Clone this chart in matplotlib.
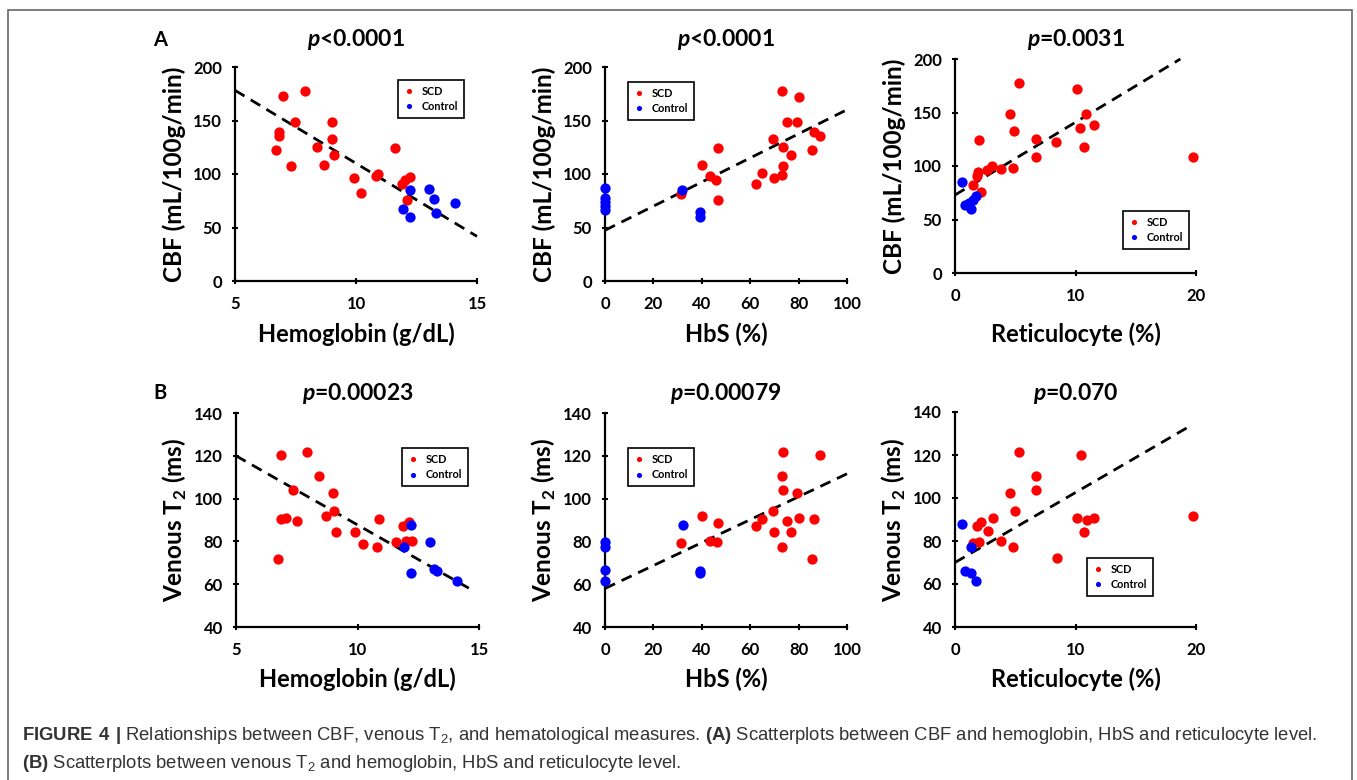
import matplotlib
matplotlib.use('Agg')
import matplotlib.pyplot as plt
from matplotlib.patches import Rectangle

plt.rcParams['font.family'] = ['Lato', 'DejaVu Sans']
plt.rcParams['font.weight'] = 'bold'
plt.rcParams['mathtext.fontset'] = 'custom'
plt.rcParams['mathtext.rm'] = 'Lato:bold'
plt.rcParams['mathtext.bfit'] = 'Lato:italic:bold'
plt.rcParams['mathtext.bf'] = 'Liberation Sans:bold'
plt.rcParams['mathtext.sf'] = 'Liberation Sans:weight=normal'

# ---- data ----
# A: CBF vs hemoglobin
hb_scd = [6.69, 6.80, 6.80, 7.00, 7.30, 7.49, 7.88, 8.40, 8.68, 9.01, 9.01,
          9.11, 9.91, 10.20, 10.81, 10.92, 11.63, 11.92, 12.01, 12.23, 12.11]
cbf_hb_scd = [122.7, 139.6, 135.8, 172.6, 107.8, 148.6, 177.6, 125.2, 108.7, 148.3, 132.7,
              118.1, 96.3, 81.9, 98.4, 100.3, 124.0, 90.3, 94.7, 97.2, 75.4]
hb_ctl = [12.23, 11.93, 12.22, 13.02, 13.23, 13.31, 14.11]
cbf_hb_ctl = [84.7, 67.3, 59.8, 86.3, 76.6, 63.9, 72.6]
cbf_hb_fit_x = [5, 15]
cbf_hb_fit_y = [178.2, 41.7]

# A: CBF vs HbS
hbs_scd = [31.3, 40.1, 43.3, 45.9, 46.6, 46.5, 62.3, 64.7, 69.4, 69.8, 73.2,
           73.4, 73.5, 73.2, 75.4, 77.0, 79.3, 80.1, 85.7, 86.5, 88.9]
cbf_hbs_scd = [81.0, 108.7, 97.8, 94.7, 124.3, 75.4, 90.7, 100.6, 132.7, 96.3, 177.6,
               125.5, 107.8, 98.8, 148.6, 118.1, 148.3, 172.3, 122.7, 138.9, 135.8]
hbs_ctl = [0, 0, 0, 0, 0, 32.0, 39.3, 39.3]
cbf_hbs_ctl = [86.9, 77.6, 73.8, 69.8, 66.7, 84.7, 64.2, 59.8]
cbf_hbs_fit_x = [0, 100]
cbf_hbs_fit_y = [47.4, 160.1]

# A: CBF vs reticulocyte
ret_scd = [1.47, 1.80, 1.91, 2.02, 2.13, 2.68, 3.10, 3.79, 4.59, 4.81, 4.90,
           5.31, 6.72, 6.72, 8.41, 10.10, 10.40, 10.71, 10.90, 11.51, 19.75]
cbf_ret_scd = [81.9, 90.3, 94.7, 124.0, 75.4, 96.0, 100.3, 97.2, 148.3, 98.1, 132.4,
               177.3, 125.2, 108.1, 122.7, 172.3, 135.5, 118.1, 148.3, 138.3, 108.7]
ret_ctl = [0.58, 0.83, 1.13, 1.30, 1.47, 1.72]
cbf_ret_ctl = [84.7, 63.9, 65.4, 59.5, 68.5, 72.3]
cbf_ret_fit_x = [0, 18.7]
cbf_ret_fit_y = [72.9, 200.0]

# B: venous T2 vs hemoglobin
t2_hb_x_scd = [6.74, 6.84, 6.84, 7.05, 7.33, 7.53, 7.92, 8.41, 8.71, 9.01, 9.03,
               9.12, 9.90, 10.21, 10.81, 10.89, 11.60, 11.89, 12.10, 12.01, 12.23]
t2_hb_scd = [72.0, 120.2, 90.3, 90.8, 103.8, 89.7, 121.6, 110.6, 91.9, 102.7, 94.4,
             84.4, 84.5, 78.9, 77.3, 90.5, 79.7, 87.2, 89.2, 80.0, 80.2]
t2_hb_x_ctl = [11.90, 12.21, 12.19, 12.99, 13.15, 13.29, 14.08]
t2_hb_ctl = [77.3, 87.8, 65.3, 79.7, 66.9, 66.4, 61.3]
t2_hb_fit_x = [5, 14.68]
t2_hb_fit_y = [120.0, 57.5]

# B: venous T2 vs HbS
t2_hbs_x_scd = [31.4, 40.1, 43.3, 46.1, 46.5, 62.3, 64.7, 69.4, 69.8, 73.4,
                73.2, 73.5, 73.2, 75.4, 77.0, 79.2, 80.1, 85.7, 86.5, 89.0]
t2_hbs_scd = [79.1, 91.9, 80.0, 79.7, 88.8, 87.2, 90.6, 94.1, 84.4, 121.6,
              110.6, 103.8, 77.3, 89.7, 84.4, 102.7, 90.8, 72.0, 90.3, 120.2]
t2_hbs_x_ctl = [0, 0, 0, 0, 32.1, 39.3, 39.3]
t2_hbs_ctl = [79.7, 77.5, 66.7, 61.3, 87.8, 66.3, 65.3]
t2_hbs_fit_x = [0, 100]
t2_hbs_fit_y = [58.0, 111.6]

# B: venous T2 vs reticulocyte
t2_ret_x_scd = [1.52, 2.02, 1.83, 2.13, 2.71, 3.13, 3.82, 4.59, 4.84, 4.95,
                5.34, 6.72, 6.72, 8.44, 10.10, 10.43, 10.93, 10.73, 11.53, 19.75]
t2_ret_scd = [79.1, 79.6, 87.2, 88.8, 84.5, 90.6, 80.0, 102.5, 77.3, 94.1,
              121.3, 110.3, 103.6, 72.0, 90.8, 120.0, 89.7, 84.2, 90.5, 91.7]
t2_ret_x_ctl = [0.61, 1.30, 0.86, 1.36, 1.77]
t2_ret_ctl = [87.7, 77.4, 66.2, 65.1, 61.2]
t2_ret_fit_x = [0, 19.45]
t2_ret_fit_y = [70.0, 133.3]

p_values = ['<0.0001', '<0.0001', '=0.0031', '=0.00023', '=0.00079', '=0.070']
x_labels = ['Hemoglobin (g/dL)', 'HbS (%)', 'Reticulocyte (%)']
y_labels = ['CBF (mL/100g/min)', 'Venous T$_2$ (ms)']

W, H = 1357, 780


def fx(px):
    return px / W


def fy(py):
    return 1 - py / H


fig = plt.figure(figsize=(W / 100, H / 100), dpi=100)
fig.patch.set_facecolor('white')

# (data, axes box in pixels: left, right, top, bottom, legend anchor)
panels = [
    (hb_scd, cbf_hb_scd, hb_ctl, cbf_hb_ctl, cbf_hb_fit_x, cbf_hb_fit_y,
     (235, 477, 67, 281), (5, 15, [5, 10, 15]), (0, 200, [0, 50, 100, 150, 200]), (0.674, 0.94)),
    (hbs_scd, cbf_hbs_scd, hbs_ctl, cbf_hbs_ctl, cbf_hbs_fit_x, cbf_hbs_fit_y,
     (605, 847, 67, 281), (0, 100, range(0, 101, 20)), (0, 200, [0, 50, 100, 150, 200]), (0.095, 0.93)),
    (ret_scd, cbf_ret_scd, ret_ctl, cbf_ret_ctl, cbf_ret_fit_x, cbf_ret_fit_y,
     (955, 1196, 59, 273), (0, 20, [0, 10, 20]), (0, 200, [0, 50, 100, 150, 200]), (0.697, 0.29)),
    (t2_hb_x_scd, t2_hb_scd, t2_hb_x_ctl, t2_hb_ctl, t2_hb_fit_x, t2_hb_fit_y,
     (236, 479, 413, 627), (5, 15, [5, 10, 15]), (40, 140, range(40, 141, 20)), (0.683, 0.836)),
    (t2_hbs_x_scd, t2_hbs_scd, t2_hbs_x_ctl, t2_hbs_ctl, t2_hbs_fit_x, t2_hbs_fit_y,
     (605, 847, 413, 627), (0, 100, range(0, 101, 20)), (40, 140, range(40, 141, 20)), (0.095, 0.836)),
    (t2_ret_x_scd, t2_ret_scd, t2_ret_x_ctl, t2_ret_ctl, t2_ret_fit_x, t2_ret_fit_y,
     (955, 1196, 412, 627), (0, 20, [0, 10, 20]), (40, 140, range(40, 141, 20)), (0.548, 0.321)),
]

for i, (xs, ys, xc, yc, fitx, fity, box, xax, yax, leg) in enumerate(panels):
    left, right, top, bottom = box
    ax = fig.add_axes([fx(left), fy(bottom), (right - left) / W, (bottom - top) / H])
    ax.plot(fitx, fity, color='black', lw=2.0, ls=(0, (4, 2.6)), zorder=2, clip_on=False)
    ax.plot(xs, ys, 'o', color='#ff0000', ms=7.4, mec='none', label='SCD', zorder=3, clip_on=False)
    ax.plot(xc, yc, 'o', color='#0000ff', ms=7.4, mec='none', label='Control', zorder=3, clip_on=False)

    ax.set_xlim(xax[0], xax[1])
    ax.set_ylim(yax[0], yax[1])
    ax.set_xticks(list(xax[2]))
    ax.set_yticks(list(yax[2]))
    for s in ['top', 'right']:
        ax.spines[s].set_visible(False)
    for s in ['left', 'bottom']:
        ax.spines[s].set_linewidth(1.6)
    ax.tick_params(direction='inout', length=5, width=1.5, labelsize=12)
    ax.tick_params(axis='x', pad=8)
    ax.tick_params(axis='y', pad=7)
    for lab in ax.get_xticklabels() + ax.get_yticklabels():
        lab.set_fontweight('bold')

    row = i // 3
    ax.set_xlabel(x_labels[i % 3], fontsize=17, fontweight='bold')
    ax.xaxis.set_label_coords(0.5, -(334 + 345 * row - bottom) / (bottom - top))
    ax.xaxis.label.set_va('center')
    ax.set_ylabel(y_labels[row], fontsize=17.5, fontweight='bold')
    ax.yaxis.set_label_coords(-61 / (right - left), 0.5)
    ax.yaxis.label.set_va('center')

    fig.text(fx((left + right) / 2), fy(40 + 353 * row), r'$\mathbfit{p}$' + p_values[i],
             ha='center', va='center', fontsize=16.5, fontweight='bold')

    lg = ax.legend(loc='upper left', bbox_to_anchor=leg, borderaxespad=0,
                   fontsize=7.8, markerscale=0.5, handlelength=0.9, handletextpad=0.7,
                   borderpad=0.55, labelspacing=0.4, fancybox=False, framealpha=1,
                   edgecolor='black')
    lg.get_frame().set_linewidth(1.2)
    for t in lg.get_texts():
        t.set_fontweight('bold')

fig.text(fx(160), fy(40), 'A', ha='center', va='center', fontsize=14.5, fontweight='bold')
fig.text(fx(160), fy(393), 'B', ha='center', va='center', fontsize=14.5, fontweight='bold')

# caption
cap_kw = dict(ha='left', va='center', fontsize=13.35, fontweight='normal',
              family=['Liberation Sans', 'DejaVu Sans'], color='#333333')
fig.text(fx(22), fy(736),
         r'$\mathbf{FIGURE\ 4\ |}$ Relationships between CBF, venous T$_{\mathsf{2}}$, and hematological measures. '
         r'$\mathbf{(A)}$ Scatterplots between CBF and hemoglobin, HbS and reticulocyte level.', **cap_kw)
fig.text(fx(22), fy(764),
         r'$\mathbf{(B)}$ Scatterplots between venous T$_{\mathsf{2}}$ and hemoglobin, HbS and reticulocyte level.',
         **cap_kw)

# frame around the figure
fig.patches.append(Rectangle((fx(8), fy(800)), fx(1352) - fx(8), fy(10) - fy(800),
                             transform=fig.transFigure, fill=False, edgecolor='#666666',
                             lw=1.2, clip_on=False))

fig.savefig('out.png', dpi=100)
